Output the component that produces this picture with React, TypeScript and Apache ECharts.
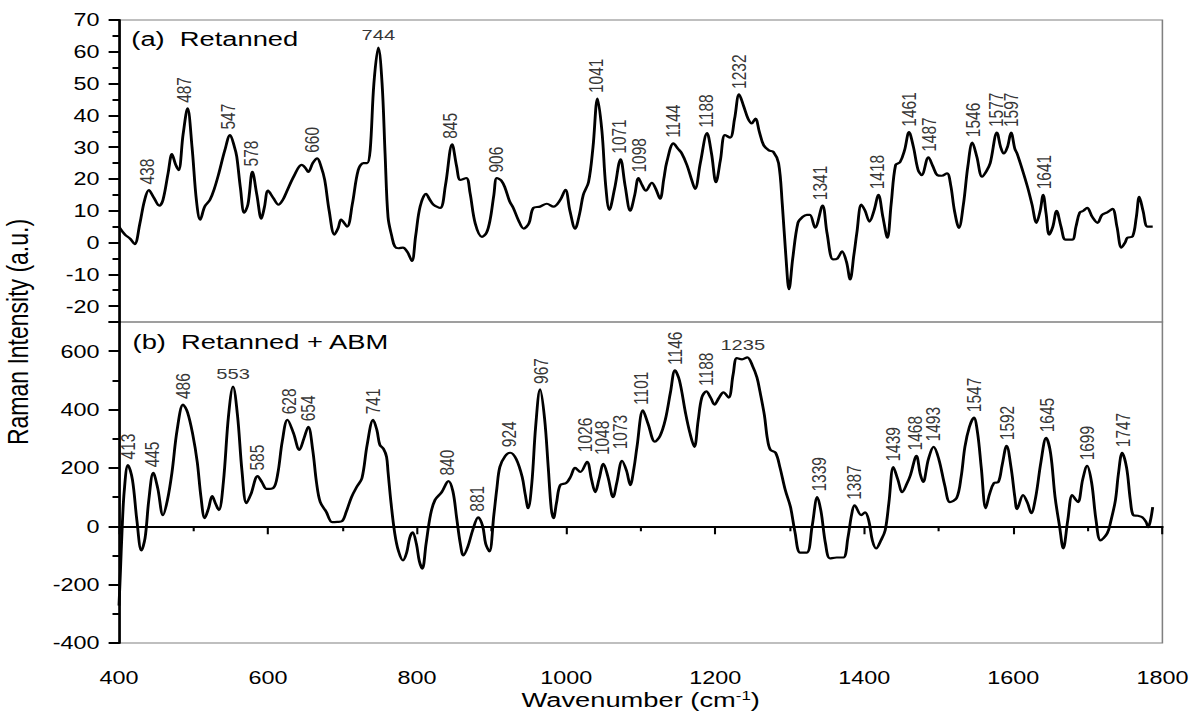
import React, { useEffect, useRef } from "react";
import * as echarts from "echarts";

// ---------- data ----------
const xTicksMin = 400;
const xTicksMax = 1800;

const topX = [400, 408, 415, 421, 428, 434, 440, 447, 454, 459, 466, 471, 476, 480, 486, 492, 498, 504, 509, 515, 522, 528, 534, 542, 549, 555, 558, 563, 568, 573, 579, 585, 591, 595, 600, 607, 614, 620, 625, 635, 645, 650, 654, 660, 666, 671, 676, 682, 689, 694, 698, 706, 713, 721, 728, 733, 737, 742, 748, 753, 757, 761, 766, 770, 775, 781, 787, 793, 798, 804, 812, 817, 822, 831, 838, 847, 853, 858, 866, 871, 878, 887, 893, 898, 903, 907, 913, 918, 924, 929, 936, 943, 950, 956, 965, 974, 983, 992, 999, 1005, 1012, 1018, 1023, 1030, 1036, 1042, 1048, 1053, 1058, 1065, 1073, 1079, 1086, 1092, 1097, 1102, 1107, 1115, 1120, 1126, 1131, 1135, 1144, 1150, 1155, 1162, 1168, 1173, 1180, 1189, 1195, 1201, 1207, 1213, 1220, 1226, 1232, 1238, 1244, 1249, 1254, 1259, 1265, 1272, 1278, 1285, 1290, 1295, 1299, 1304, 1311, 1317, 1323, 1327, 1334, 1344, 1350, 1358, 1364, 1370, 1376, 1381, 1386, 1390, 1396, 1401, 1407, 1413, 1419, 1425, 1431, 1436, 1442, 1448, 1454, 1460, 1466, 1472, 1477, 1486, 1492, 1498, 1504, 1511, 1516, 1521, 1527, 1533, 1539, 1545, 1551, 1558, 1564, 1569, 1578, 1583, 1587, 1592, 1597, 1602, 1605, 1612, 1619, 1625, 1631, 1636, 1640, 1644, 1648, 1653, 1658, 1664, 1670, 1679, 1684, 1689, 1694, 1699, 1706, 1713, 1719, 1726, 1733, 1739, 1745, 1750, 1753, 1760, 1765, 1769, 1774, 1780, 1787];
const topY = [5, 2.5, 1.2, -0.5, 6, 13, 16.5, 14, 11.6, 13.4, 22, 27.8, 24.5, 22.8, 34, 42.2, 30, 13, 7.2, 11.3, 13.4, 17, 21.8, 29, 33.8, 30, 27, 17, 9.4, 12, 22.2, 15, 7.5, 11, 16.3, 14, 11.9, 13.5, 16, 21, 24.4, 23.5, 22.2, 25, 26.5, 24, 19.7, 10, 2.5, 4.5, 7.2, 5, 12, 22.8, 25, 25, 29, 50, 61.3, 50, 28, 8, 2, -1.2, -1.8, -1.6, -3, -5.8, 2, 11.3, 15.3, 13.5, 11.9, 10.9, 18, 30.9, 24, 19.7, 20.3, 15.6, 6, 1.8, 3, 7.2, 15, 20.3, 19.5, 17.2, 13, 10.9, 7, 4.4, 6, 10.9, 11.3, 12.2, 11.3, 13.4, 16.6, 10, 4.4, 9, 15, 19, 30, 45.3, 35, 18, 10.3, 17, 26.2, 18, 10, 15, 20.3, 18, 16.3, 18.8, 17, 13.8, 20, 25.3, 31.2, 29.5, 28.1, 24.4, 20, 16.9, 25, 34.4, 28, 19, 26, 33.8, 33, 39, 46.6, 43, 39, 37.5, 39, 35, 30.6, 29, 28.5, 25, 12, -5, -14.7, -5, 6.2, 8, 8.7, 8.7, 4.7, 11.6, 3, -5.3, -5, -2.8, -6, -11.6, -4, 3, 11.9, 10, 6.6, 10, 15, 8, 1.5, 12, 24.4, 25.3, 29, 34.7, 30, 23, 21.2, 26.8, 24, 21.2, 21, 21.8, 18, 10, 4.6, 12, 24, 31.4, 27, 20.7, 22.5, 25, 34.6, 30, 28, 30, 34.6, 29.5, 28, 23, 17.5, 12, 6.2, 10, 15, 9, 2.5, 5, 10, 5, 0.9, 0.9, 5, 9.4, 10, 10.9, 8, 6.2, 8.7, 9.5, 10.6, 5, -1.6, 0, 1.5, 1.9, 8, 14.4, 10, 5, 5];

const bottomX = [400, 402, 404, 407, 412, 418, 424, 430, 435, 440, 446, 452, 459, 465, 471, 478, 486, 492, 499, 505, 510, 515, 520, 525, 530, 534, 540, 547, 553, 559, 565, 571, 577, 586, 592, 598, 607, 613, 619, 626, 634, 642, 648, 654, 660, 665, 670, 678, 686, 693, 699, 705, 712, 719, 726, 733, 741, 746, 750, 755, 759, 761, 765, 770, 775, 781, 786, 790, 794, 799, 803, 807, 812, 818, 824, 833, 842, 848, 853, 858, 862, 868, 875, 882, 888, 892, 897, 903, 907, 911, 918, 925, 933, 941, 945, 949, 954, 959, 965, 971, 976, 980, 983, 987, 992, 1000, 1006, 1012, 1019, 1028, 1034, 1039, 1044, 1050, 1056, 1063, 1068, 1075, 1081, 1086, 1091, 1095, 1103, 1110, 1119, 1126, 1133, 1140, 1146, 1152, 1160, 1166, 1172, 1177, 1182, 1188, 1194, 1199, 1205, 1211, 1218, 1224, 1229, 1236, 1243, 1250, 1256, 1260, 1266, 1270, 1274, 1281, 1287, 1294, 1301, 1307, 1314, 1323, 1330, 1337, 1342, 1348, 1354, 1363, 1372, 1378, 1383, 1387, 1396, 1401, 1406, 1411, 1416, 1422, 1428, 1433, 1439, 1445, 1451, 1457, 1462, 1470, 1475, 1479, 1486, 1493, 1500, 1508, 1515, 1524, 1530, 1535, 1541, 1547, 1552, 1557, 1563, 1568, 1574, 1580, 1585, 1591, 1597, 1602, 1605, 1613, 1619, 1624, 1630, 1637, 1644, 1650, 1656, 1662, 1667, 1673, 1679, 1684, 1687, 1693, 1699, 1705, 1711, 1717, 1726, 1731, 1737, 1741, 1746, 1752, 1757, 1761, 1767, 1773, 1778, 1781, 1784, 1787];
const bottomY = [-272, -150, -20, 120, 210, 160, 20, -83, -40, 90, 183, 130, 38, 90, 183, 330, 417, 390, 314, 220, 100, 28, 60, 103, 75, 55, 150, 380, 479, 380, 190, 79, 110, 172, 150, 128, 131, 180, 290, 365, 320, 262, 300, 341, 260, 150, 83, 50, 14, 15, 17, 50, 100, 135, 165, 280, 365, 330, 279, 265, 238, 186, 80, -24, -85, -117, -90, -40, -21, -60, -120, -145, -60, 40, 90, 117, 155, 120, 30, -60, -100, -70, -10, 31, 0, -60, -86, 40, 130, 203, 240, 252, 230, 169, 110, 62, 150, 340, 469, 370, 200, 60, 28, 80, 141, 148, 170, 200, 186, 221, 160, 117, 160, 214, 170, 100, 150, 224, 190, 141, 200, 272, 397, 350, 290, 310, 365, 460, 534, 500, 390, 320, 272, 360, 441, 462, 440, 417, 440, 459, 441, 520, 576, 572, 579, 550, 510, 462, 380, 300, 262, 252, 200, 124, 66, -20, -90, -90, 0, 100, 50, -60, -110, -107, -107, -40, 40, 72, 38, 48, 20, -50, -76, -50, -14, 80, 203, 160, 117, 145, 176, 241, 180, 152, 230, 272, 230, 140, 83, 97, 170, 272, 340, 372, 320, 200, 62, 110, 148, 152, 210, 276, 200, 100, 59, 107, 80, 45, 100, 220, 303, 250, 100, 0, -76, 20, 107, 90, 83, 160, 207, 150, 20, -48, -24, 20, 90, 180, 252, 200, 90, 38, 36, 31, 15, -3, 20, 66];

// peak annotations (a) — vertical labels
const topPeakPos = [438, 487, 547, 578, 660, 845, 906, 1041, 1071, 1098, 1144, 1188, 1232, 1341, 1418, 1461, 1487, 1546, 1577, 1597, 1641];
const topPeakVal = [16.5, 42.2, 33.8, 22.2, 26.5, 30.9, 20.3, 45.3, 26.2, 20.3, 31.2, 34.4, 46.6, 11.6, 15, 34.7, 26.8, 31.4, 34.6, 34.6, 15];
// (a) — horizontal labels
const topPeakPosH = [748];
const topPeakTextH = ["744"];
const topPeakValH = [61.3];

// peak annotations (b) — vertical labels
const botPeakPos = [413, 445, 486, 585, 628, 654, 741, 840, 881, 924, 967, 1026, 1048, 1073, 1101, 1146, 1188, 1339, 1387, 1439, 1468, 1493, 1547, 1592, 1645, 1699, 1747];
const botPeakVal = [210, 183, 417, 172, 365, 341, 365, 155, 31, 252, 469, 235, 225, 245, 397, 534, 462, 100, 72, 203, 241, 272, 372, 276, 303, 207, 252];
// (b) — horizontal labels
const botPeakPosH = [553, 1237];
const botPeakTextH = ["553", "1235"];
const botPeakValH = [479, 579];

const topYTickMin = -25;
const topYTickMax = 70;
const botYTickMin = -400;
const botYTickMax = 700;

// ---------- layout ----------
const SX = 1.3;
const W = 1193 / SX;
const H = 715;
const FONT = "'Liberation Sans', Arial, Helvetica, sans-serif";

function labelSeries(idx: number, pos: number[], val: number[], texts: string[] | null, horizontal: boolean) {
  return {
    type: "scatter",
    xAxisIndex: idx,
    yAxisIndex: idx,
    symbolSize: 1,
    silent: true,
    itemStyle: { color: "rgba(0,0,0,0)" },
    data: pos.map((p, i) => ({ value: [p, val[i]], name: texts ? texts[i] : String(p) })),
    label: {
      show: true,
      formatter: "{b}",
      position: "top",
      distance: horizontal ? 4 : 5,
      rotate: horizontal ? 0 : 90,
      align: horizontal ? "center" : "left",
      verticalAlign: horizontal ? "bottom" : "middle",
      fontSize: 15.5,
      fontFamily: FONT,
      color: "#000",
    },
    z: 5,
  };
}

export default function App() {
  const ref = useRef<HTMLDivElement>(null);
  useEffect(() => {
    if (!ref.current) return;
    const chart = echarts.init(ref.current, null, { renderer: "svg" });
    const gridLeft = 119 / SX;
    const gridRight = W - 1162 / SX;
    const yAxisCommon = {
      type: "value",
      axisLine: { show: true, lineStyle: { color: "#000", width: 2 } },
      axisTick: { show: true, length: 8, lineStyle: { color: "#000", width: 2 } },
      minorTick: { show: true, splitNumber: 2, length: 5, lineStyle: { color: "#000", width: 2 } },
      splitLine: { show: false },
      axisLabel: { fontSize: 18, fontFamily: FONT, color: "#000", margin: 15, formatter: (v: number) => String(v) },
    };
    chart.setOption({
      animation: false,
      backgroundColor: "#fff",
      textStyle: { fontFamily: FONT },
      grid: [
        { left: gridLeft, right: gridRight, top: 20, height: 302, show: true, borderColor: "#808080", borderWidth: 1.2, backgroundColor: "transparent" },
        { left: gridLeft, right: gridRight, top: 322, height: 321, show: true, borderColor: "#808080", borderWidth: 1.2, backgroundColor: "transparent" },
      ],
      xAxis: [
        {
          gridIndex: 0, type: "value", min: xTicksMin, max: xTicksMax, interval: 200,
          axisLine: { show: false }, axisTick: { show: false }, axisLabel: { show: false }, splitLine: { show: false },
        },
        {
          gridIndex: 1, type: "value", min: xTicksMin, max: xTicksMax, interval: 200,
          axisLine: { show: true, lineStyle: { color: "#000", width: 2 } },
          axisTick: { show: true, length: 8, lineStyle: { color: "#000", width: 1.6 } },
          minorTick: { show: true, splitNumber: 2, length: 5, lineStyle: { color: "#000", width: 1.6 } },
          splitLine: { show: false },
          axisLabel: { fontSize: 18, fontFamily: FONT, color: "#000", margin: 26, formatter: (v: number) => String(v) },
          name: "{n|Wavenumber (cm}{s|-1}{n|)}",
          nameLocation: "middle",
          nameGap: 46,
          nameTextStyle: {
            rich: {
              n: { fontSize: 21, fontFamily: FONT, color: "#000" },
              s: { fontSize: 13, fontFamily: FONT, color: "#000", verticalAlign: "top" },
            },
          },
        },
      ],
      yAxis: [
        {
          ...yAxisCommon, gridIndex: 0, min: topYTickMin, max: topYTickMax, splitNumber: 10,
          axisLabel: { ...yAxisCommon.axisLabel, showMinLabel: false },
        },
        {
          ...yAxisCommon, gridIndex: 1, min: botYTickMin, max: botYTickMax, interval: 200,
          axisLabel: { ...yAxisCommon.axisLabel, showMaxLabel: false },
        },
      ],
      graphic: [
        {
          type: "text", x: 14, y: 332, rotation: Math.PI / 2,
          style: { text: "Raman Intensity (a.u.)", font: `23px ${FONT}`, fill: "#000", textAlign: "center", textVerticalAlign: "middle" },
        },
        {
          type: "text", x: 101, y: 39,
          style: { text: "(a)  Retanned", font: `21px ${FONT}`, fill: "#000", textAlign: "left", textVerticalAlign: "middle" },
        },
        {
          type: "text", x: 102, y: 342,
          style: { text: "(b)  Retanned + ABM", font: `21px ${FONT}`, fill: "#000", textAlign: "left", textVerticalAlign: "middle" },
        },
      ],
      series: [
        {
          type: "line", xAxisIndex: 0, yAxisIndex: 0, smooth: 0.35, showSymbol: false, silent: true,
          lineStyle: { color: "#000", width: 2.2 },
          data: topX.map((x, i) => [x, topY[i]]),
        },
        {
          type: "line", xAxisIndex: 1, yAxisIndex: 1, smooth: 0.35, showSymbol: false, silent: true,
          lineStyle: { color: "#000", width: 2.2 },
          data: bottomX.map((x, i) => [x, bottomY[i]]),
        },
        labelSeries(0, topPeakPos, topPeakVal, null, false),
        labelSeries(0, topPeakPosH, topPeakValH, topPeakTextH, true),
        labelSeries(1, botPeakPos, botPeakVal, null, false),
        labelSeries(1, botPeakPosH, botPeakValH, botPeakTextH, true),
      ],
    });
    return () => chart.dispose();
  }, []);
  return (
    <div
      ref={ref}
      style={{
        position: "absolute", left: 0, top: 0, width: W, height: H,
        transform: `scaleX(${SX})`, transformOrigin: "0 0", background: "#fff",
      }}
    />
  );
}
